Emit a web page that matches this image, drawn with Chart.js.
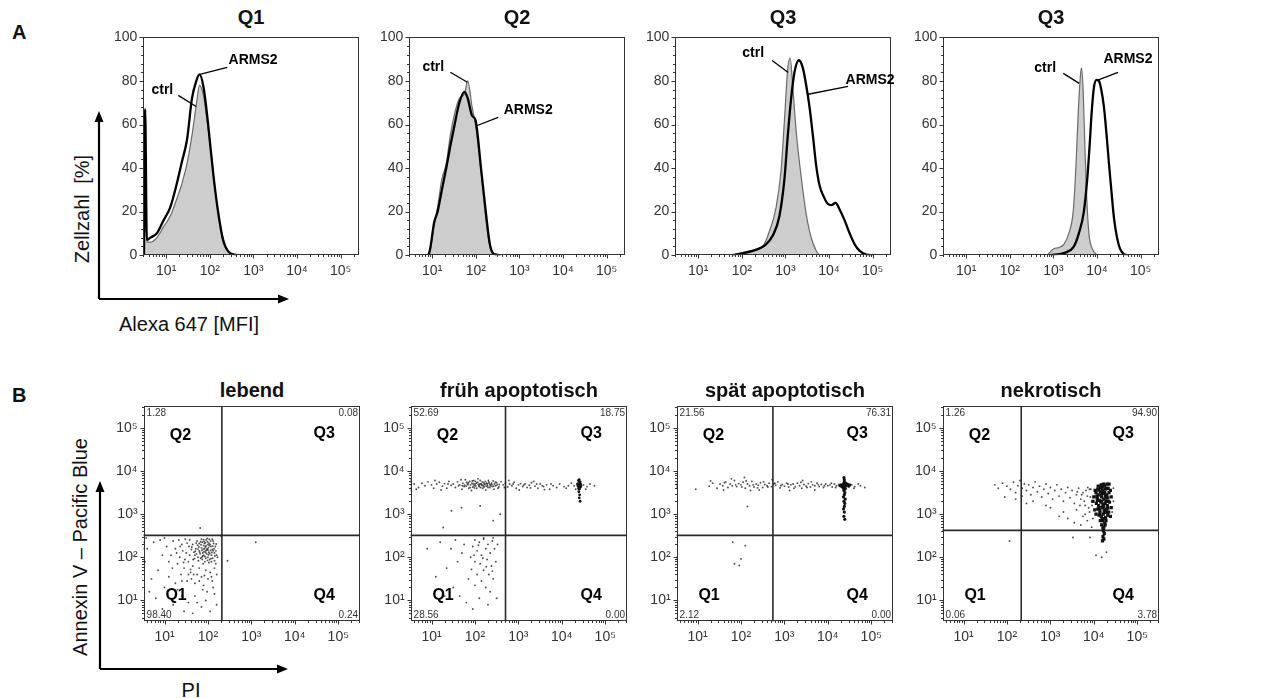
<!DOCTYPE html>
<html><head><meta charset="utf-8">
<script src="https://cdn.jsdelivr.net/npm/chart.js@4.4.1/dist/chart.umd.min.js"></script>
<style>
html,body{margin:0;padding:0;background:#fff;}
body{position:relative;width:1266px;height:698px;overflow:hidden;font-family:'Liberation Sans',Arial,'DejaVu Sans',sans-serif;color:#111;}
.lbl{position:absolute;white-space:nowrap;line-height:1;}
.ttl{position:absolute;width:300px;text-align:center;font-weight:bold;font-size:20px;line-height:20px;color:#111;}
.wrap{position:absolute;}
svg{position:absolute;left:0;top:0;}
</style></head><body>
<div class="lbl" style="left:12px;top:22px;font-weight:bold;font-size:20px;">A</div>
<div class="lbl" style="left:12px;top:385px;font-weight:bold;font-size:20px;">B</div>
<div class="lbl" style="left:82px;top:209px;font-size:20px;transform:translate(-50%,-50%) rotate(-90deg);word-spacing:5px;">Zellzahl [%]</div>
<div class="lbl" style="left:189px;top:324px;font-size:20px;transform:translate(-50%,-50%);">Alexa 647 [MFI]</div>
<div class="lbl" style="left:80px;top:547px;font-size:20px;transform:translate(-50%,-50%) rotate(-90deg);">Annexin V – Pacific Blue</div>
<div class="lbl" style="left:191px;top:690px;font-size:20px;transform:translate(-50%,-50%);">PI</div>
<svg width="1266" height="698">
  <g stroke="#000" stroke-width="2.2" fill="none">
    <path d="M99 299 V118 M99 299 H282"/>
    <path d="M100 669 V488 M100 669 H281"/>
  </g>
  <g fill="#000">
    <polygon points="99,111 94.5,122 103.5,122"/>
    <polygon points="289,299 278,294.5 278,303.5"/>
    <polygon points="100,481 95.5,492 104.5,492"/>
    <polygon points="288,669 277,664.5 277,673.5"/>
  </g>
</svg>
<script>
// ================= DATA =================
const decades = [10, 100, 1000, 10000, 100000];
const histYTicks = [0, 20, 40, 60, 80, 100];
const histTitles = ['Q1', 'Q2', 'Q3', 'Q3'];
const scatterTitles = ['lebend', 'früh apoptotisch', 'spät apoptotisch', 'nekrotisch'];
const seriesNames = ['ctrl', 'ARMS2'];

// Histogram Q1 (Alexa 647 MFI vs cell count %)
const q1X     = [3.1, 3.3, 3.6, 4.3, 6.1, 8.7, 12.4, 17.6, 23, 30, 39, 49, 58, 72, 86, 103, 127, 160, 201, 271, 422];
const q1Ctrl  = [0, 60, 6, 6, 8, 13, 18, 26, 33, 42, 55, 69, 78, 73, 62, 50, 33, 18, 8, 1.5, 0];
const q1Arms  = [0, 67, 7, 8, 10, 16, 22, 33, 43, 53, 72, 80, 83, 77, 65, 50, 33, 18, 7, 1.5, 0];
// Histogram Q2
const q2X     = [8.2, 9, 11.1, 13.3, 16.7, 21, 26, 32.7, 42, 54.7, 65.3, 82.2, 98.2, 133, 167, 210, 260, 371];
const q2Ctrl  = [0, 2, 14, 22, 35, 42, 55, 65, 72, 74, 80, 68, 60, 38, 18, 4, 0.3, 0];
const q2Arms  = [0, 3, 15, 20, 30, 40, 50, 60, 70, 75, 72, 64, 62, 39, 21, 5, 0.5, 0];
// Histogram Q3 (first)
const q3CtrlX = [61.5, 149, 301, 429, 610, 794, 948, 1132, 1280, 1475, 1758, 2291, 2985, 3890, 5070, 6050];
const q3CtrlY = [0, 2, 4, 11, 22, 39, 62, 86, 90.5, 77, 57, 36, 19, 8, 2, 0];
const q3ArmsX = [61.5, 177, 359, 512, 728, 948, 1132, 1349, 1610, 2026, 2502, 2985, 3562, 4250, 5070, 6050, 7480, 9400, 11220, 14100, 17420, 22700, 29580, 38550, 50230, 71450, 101900];
const q3ArmsY = [0, 2, 5, 9, 18, 35, 55, 72, 84, 89.5, 86, 78, 68, 55, 41, 32, 27, 23.5, 23, 24, 21, 16, 10, 5, 2, 0.3, 0];
// Histogram Q3 (second)
const q4CtrlX = [714, 1018, 1327, 1729, 2251, 2831, 3260, 3687, 4176, 4402, 4808, 5250, 5738, 6490, 7741, 10090];
const q4CtrlY = [0, 3, 3.5, 5, 10, 20, 40, 65, 83, 86, 75, 50, 28, 10, 3, 0];
const q4ArmsX = [853, 1729, 2931, 3819, 4977, 5943, 6724, 7478, 8458, 9747, 11020, 12470, 14360, 16530, 18710, 21170, 24380, 28070, 33490, 41380, 53950];
const q4ArmsY = [0, 1, 4, 10, 20, 35, 50, 65, 77, 80.5, 80, 76, 68, 55, 42, 30, 17, 9, 3, 0.5, 0];

// Scatter plots: each event = [log10 PI, log10 Annexin V]
const lebendDots = [
 [1.95,2.15],[1.98,2.2],[2.02,2.12],[1.9,2.05],[1.85,2.22],[2.05,2.3],[2.1,2.18],[1.92,2.32],[1.88,2.1],[2.0,2.0],
 [2.08,2.05],[1.8,2.15],[1.76,2.28],[2.12,2.38],[1.96,2.4],[2.04,1.95],[1.7,2.05],[1.83,1.98],[2.15,2.1],[1.93,1.9],
 [2.07,2.25],[1.87,2.35],[1.78,1.92],[2.0,2.3],[1.97,2.08],[1.9,2.27],[2.11,1.98],[1.72,2.2],[2.03,2.42],[1.85,2.42],
 [1.65,2.3],[1.68,2.12],[2.17,2.25],[1.95,1.98],[2.06,2.16],[1.82,2.08],[1.99,2.36],[1.75,2.38],[2.13,2.32],[1.89,1.85],
 [2.02,1.88],[1.62,2.18],[2.08,1.9],[1.94,2.24],[1.8,2.32],[2.18,2.15],[1.86,2.0],[2.01,2.22],[1.91,2.13],[1.77,2.0],
 [1.97,2.17],[2.03,2.27],[1.89,2.19],[2.09,2.11],[1.93,2.02],[2.14,2.2],[1.84,2.29],[2.01,2.06],[1.79,2.24],[2.06,2.38],
 [1.94,2.34],[2.16,2.03],[1.87,1.95],[2.0,2.17],[1.9,2.41],[2.11,2.26],[1.81,2.12],[1.99,1.93],[2.07,1.97],[1.73,2.33],
 [2.19,2.31],[1.96,2.27],[1.86,2.16],[2.04,2.09],[1.92,2.2],[2.1,2.42],[1.83,2.36],[1.71,2.14],[2.15,1.92],[1.98,2.44],
 [1.63,2.24],[1.69,1.97],[2.2,2.05],[1.77,2.19],[2.02,2.33],[1.88,2.03],[1.95,2.11],[2.12,2.15],[1.74,2.08],[1.91,2.37],
 [1.5,2.1],[1.4,2.3],[1.55,1.9],[1.35,2.0],[1.45,1.75],[1.6,1.65],[1.25,2.2],[1.3,1.85],[1.58,2.4],[1.2,2.38],
 [1.48,2.42],[1.62,1.5],[1.75,1.6],[1.85,1.55],[1.95,1.7],[2.05,1.65],[2.1,1.45],[1.9,1.35],[1.7,1.4],[2.0,1.5],
 [1.8,1.75],[1.65,1.8],[2.15,1.75],[1.15,2.05],[1.05,2.25],[1.38,1.6],[1.52,1.45],[1.88,1.25],[2.12,1.3],[1.98,1.2],
 [1.42,2.15],[1.33,2.4],[1.1,1.9],[1.56,2.25],[1.66,1.95],[1.58,2.05],[1.47,1.95],[1.36,2.25],[1.6,1.72],[1.52,2.33],
 [1.44,1.88],[1.28,2.1],[1.67,1.6],[1.8,1.45],[1.92,1.58],[2.08,1.55],[2.18,1.85],[1.55,1.6],[1.4,1.45],[1.18,1.75],
 [0.6,2.2],[0.75,2.35],[0.55,1.9],[0.85,1.7],[0.7,1.5],[0.95,2.05],[0.9,2.4],[0.65,1.2],[0.8,1.05],[1.0,1.3],
 [1.1,1.55],[1.25,1.4],[1.2,0.9],[1.4,1.1],[1.55,0.95],[1.7,1.1],[1.85,0.85],[1.95,1.0],[2.05,0.75],[2.2,0.9],
 [1.65,0.7],[1.45,0.75],[0.95,0.8],[2.15,1.15],[1.3,1.25],[2.22,2.0],[2.2,1.6],[0.58,2.45],[1.0,2.45],[1.75,0.95],
 [1.82,2.68],[2.45,1.92],[3.1,2.35],[2.3,2.5],[0.52,2.2],[0.52,1.9],[0.52,2.35]
];
const fruehDots = [
 [1.5,3.7],[1.55,3.62],[1.6,3.75],[1.65,3.68],[1.7,3.58],[1.72,3.72],[1.78,3.8],[1.8,3.65],[1.83,3.7],[1.86,3.6],
 [1.88,3.76],[1.9,3.68],[1.93,3.72],[1.95,3.63],[1.97,3.78],[2.0,3.7],[2.02,3.66],[2.04,3.6],[2.06,3.74],[2.08,3.69],
 [2.1,3.64],[2.12,3.78],[2.14,3.71],[2.16,3.67],[2.18,3.6],[2.2,3.73],[2.22,3.69],[2.24,3.76],[2.26,3.65],[2.28,3.7],
 [2.3,3.62],[2.32,3.74],[2.35,3.68],[2.38,3.72],[2.4,3.64],[2.42,3.77],[2.45,3.7],[2.48,3.66],[2.5,3.73],[2.53,3.6],
 [2.56,3.69],[2.6,3.75],[1.62,3.66],[1.75,3.64],[1.85,3.73],[1.98,3.66],[2.11,3.7],[2.19,3.66],[2.27,3.72],[2.36,3.66],
 [1.92,3.55],[2.07,3.82],[2.25,3.56],[1.68,3.8],[2.44,3.58],
 [1.76,3.67],[1.81,3.74],[1.89,3.62],[1.94,3.77],[1.99,3.61],[2.03,3.72],[2.09,3.66],[2.13,3.62],[2.17,3.75],[2.21,3.63],
 [2.23,3.7],[2.29,3.66],[2.31,3.78],[2.34,3.62],[2.39,3.69],[2.43,3.65],[2.47,3.74],[2.51,3.68],[2.55,3.63],[1.84,3.68],
 [1.96,3.7],[2.01,3.76],[2.15,3.69],[2.33,3.71],[1.71,3.66],
 [0.6,3.7],[0.7,3.62],[0.78,3.72],[0.85,3.66],[0.92,3.75],[1.0,3.68],[1.05,3.6],[1.12,3.7],[1.18,3.74],[1.25,3.65],
 [1.3,3.71],[1.35,3.6],[1.4,3.76],[1.45,3.67],[0.65,3.58],[1.08,3.78],[1.22,3.56],[1.38,3.7],
 [2.65,3.68],[2.7,3.72],[2.75,3.63],[2.8,3.7],[2.85,3.66],[2.9,3.74],[2.95,3.6],[3.0,3.68],[3.05,3.71],[3.1,3.64],
 [3.15,3.7],[3.2,3.62],[3.25,3.67],[3.3,3.73],[3.38,3.65],[3.45,3.6],[3.5,3.7],[3.58,3.64],[3.65,3.68],[3.72,3.58],
 [3.8,3.66],[3.88,3.62],[3.95,3.7],[4.05,3.64],[4.15,3.66],[4.22,3.72],[2.78,3.78],[3.02,3.56],[3.35,3.76],[3.6,3.57],
 [2.68,3.62],[2.88,3.7],[3.12,3.67],[3.28,3.61],[3.42,3.7],[3.55,3.66],[3.75,3.7],[4.1,3.6],[4.28,3.66],[4.32,3.58],
 [4.5,3.68],[4.58,3.64],[4.65,3.7],[4.75,3.66],[4.55,3.58],
 [1.46,3.08],[1.69,3.15],[2.12,3.19],[1.27,2.69],[2.42,2.85],[2.58,3.0],
 [0.52,3.6],[0.52,3.68],[0.52,3.74],[0.52,3.55],[0.52,3.8],
 [2.0,2.4],[2.1,2.35],[2.2,2.42],[2.3,2.3],[2.4,2.38],[2.45,2.2],[2.35,2.1],[2.25,2.2],[2.15,2.05],[2.05,2.15],
 [1.95,2.25],[1.9,2.0],[2.0,1.9],[2.12,1.85],[2.28,1.95],[2.38,1.8],[2.48,1.9],[2.2,1.7],[2.05,1.6],[1.92,1.72],
 [2.32,1.6],[2.42,1.5],[2.15,1.45],[2.25,1.3],[2.0,1.35],[2.35,1.2],[1.85,1.5],[1.75,2.3],[1.7,2.1],[1.6,1.9],
 [1.55,2.4],[1.45,2.2],[1.35,1.75],[1.2,2.35],[1.1,1.55],[1.5,1.3],[1.65,1.1],[1.8,0.95],[2.1,1.05],[2.3,0.9],
 [2.5,1.05],[1.95,0.8],[2.2,2.45],[2.42,2.45],[2.52,2.3],[2.08,2.28],[2.18,1.98],[1.98,2.05],[2.26,1.78],[2.4,1.68],
 [0.9,2.2],[1.3,1.1]
];
const fruehCluster = [
 [4.38,3.7],[4.4,3.65],[4.42,3.68],[4.39,3.6],[4.41,3.72],[4.43,3.63],[4.37,3.66],[4.4,3.58],[4.42,3.75],[4.39,3.52],
 [4.41,3.45],[4.4,3.38],[4.42,3.3],[4.38,3.78],[4.36,3.7],[4.44,3.66],[4.4,3.69],[4.41,3.62],[4.39,3.67],[4.43,3.7],
 [4.38,3.64],[4.4,3.8]
];
const spaetDots = [
 [1.27,3.65],[1.35,3.72],[1.45,3.6],[1.52,3.7],[1.58,3.66],[1.65,3.75],[1.7,3.62],[1.75,3.7],[1.8,3.66],[1.85,3.78],
 [1.9,3.64],[1.95,3.71],[2.0,3.68],[2.05,3.74],[2.1,3.6],[2.15,3.7],[2.2,3.66],[2.25,3.76],[2.3,3.63],[2.35,3.7],
 [2.4,3.67],[2.45,3.73],[2.5,3.62],[2.55,3.69],[2.6,3.66],[2.65,3.72],[2.7,3.64],[2.75,3.7],[2.8,3.67],[2.85,3.75],
 [2.9,3.61],[2.95,3.69],[3.0,3.65],[3.05,3.72],[3.1,3.63],[3.15,3.68],[3.2,3.7],[3.25,3.64],[3.3,3.72],[3.35,3.66],
 [3.4,3.6],[3.45,3.69],[3.5,3.65],[3.55,3.71],[3.6,3.63],[3.65,3.68],[3.7,3.66],[3.75,3.72],[3.8,3.64],[3.85,3.69],
 [3.9,3.62],[3.95,3.7],[4.0,3.66],[4.05,3.68],[4.1,3.63],[4.15,3.7],[4.2,3.66],[1.78,3.82],[2.08,3.85],[2.42,3.56],
 [2.72,3.8],[3.12,3.55],[3.42,3.78],[1.6,3.56],[2.22,3.55],[3.7,3.56],[4.55,3.68],[4.62,3.64],[4.7,3.7],[4.85,3.62],
 [1.62,3.73],[1.88,3.68],[2.02,3.63],[2.12,3.77],[2.28,3.68],[2.38,3.61],[2.52,3.75],[2.62,3.63],[2.78,3.72],[2.92,3.66],
 [3.08,3.7],[3.22,3.6],[3.38,3.74],[3.52,3.62],[3.62,3.75],[3.78,3.68],[3.92,3.66],[4.08,3.72],[4.18,3.62],[4.25,3.69],
 [4.6,3.6],[4.75,3.66],
 [0.96,3.58],[1.3,3.77],[2.15,3.18],
 [1.81,2.35],[1.85,1.85],[1.96,1.81],[2.1,2.27],[2.0,1.96],
 [0.52,3.6],[0.52,3.68],[0.52,3.72],[0.52,3.64],[0.52,2.0],[0.52,1.95]
];
const spaetCluster = [
 [4.35,3.68],[4.37,3.72],[4.38,3.65],[4.36,3.6],[4.39,3.7],[4.4,3.66],[4.38,3.75],[4.37,3.55],[4.39,3.5],[4.38,3.45],
 [4.36,3.4],[4.4,3.35],[4.37,3.3],[4.39,3.25],[4.38,3.18],[4.36,3.12],[4.38,3.05],[4.37,2.95],[4.39,2.88],[4.28,3.66],
 [4.3,3.68],[4.32,3.64],[4.42,3.67],[4.45,3.7],[4.48,3.65],[4.5,3.68],[4.38,3.8],[4.37,3.85],[4.36,3.63],[4.4,3.6],
 [4.38,3.62],[4.39,3.58],[4.37,3.69],[4.41,3.72],[4.36,3.66]
];
const nekroDots = [
 [1.72,3.68],[1.8,3.6],[1.9,3.72],[2.0,3.65],[2.08,3.58],[2.15,3.74],[2.2,3.5],[2.25,3.66],[2.3,3.78],[2.35,3.6],
 [2.4,3.7],[2.45,3.55],[2.5,3.68],[2.55,3.45],[2.6,3.62],[2.65,3.75],[2.7,3.52],[2.75,3.65],[2.8,3.4],[2.85,3.58],
 [2.9,3.7],[2.95,3.48],[3.0,3.62],[3.05,3.35],[3.1,3.55],[3.15,3.68],[3.2,3.42],[3.25,3.58],[3.3,3.3],[3.35,3.5],
 [3.4,3.62],[3.45,3.38],[3.5,3.55],[3.55,3.25],[3.6,3.45],[3.65,3.6],[3.7,3.35],[3.75,3.5],[3.8,3.2],[3.85,3.42],
 [3.9,3.58],[3.95,3.3],[2.45,3.25],[2.9,3.2],[3.3,3.05],[3.6,3.1],[3.75,2.95],[3.9,3.05],[3.85,2.85],[3.7,2.75],
 [3.95,2.7],[2.2,3.35],[2.6,3.3],[3.0,3.15],[1.95,3.4],[3.4,2.9],[3.55,2.8],[3.2,2.95],[2.35,3.42],
 [3.72,3.45],[3.78,3.3],[3.82,3.55],[3.88,3.15],[3.92,3.4],[3.96,3.2],[3.8,3.0],[3.68,3.2],[3.86,3.62],[3.62,3.52],
 [3.98,2.9],[3.93,3.58],[4.45,3.3],[4.45,3.6],[4.42,3.05],
 [2.06,2.38],[3.52,2.46],[3.91,2.46],[4.18,2.0],[4.29,2.12],[4.05,2.05]
];
const nekroBlob = [
 [4.05,3.5],[4.1,3.45],[4.15,3.52],[4.2,3.48],[4.25,3.5],[4.3,3.45],[4.35,3.5],[4.08,3.38],[4.13,3.32],[4.18,3.4],
 [4.23,3.35],[4.28,3.38],[4.33,3.3],[4.06,3.25],[4.11,3.2],[4.16,3.28],[4.21,3.22],[4.26,3.25],[4.31,3.2],[4.36,3.28],
 [4.09,3.12],[4.14,3.08],[4.19,3.15],[4.24,3.1],[4.29,3.12],[4.34,3.05],[4.12,2.98],[4.17,2.95],[4.22,3.0],[4.27,2.92],
 [4.32,2.98],[4.2,2.85],[4.25,2.8],[4.18,2.75],[4.23,2.7],[4.22,2.62],[4.24,2.55],[4.21,2.48],[4.23,2.42],[4.2,2.38],
 [4.03,3.55],[4.38,3.55],[4.4,3.4],[4.0,3.4],[3.98,3.3],[4.02,3.1],[4.4,3.15],[4.15,3.62],[4.3,3.6],[4.22,3.7],
 [4.1,3.65],[4.35,3.7],[4.05,3.0],[4.38,2.95],[4.28,2.85],[4.15,2.85],[4.2,3.55],[4.27,3.58],[4.12,3.56],
 [4.07,3.42],[4.17,3.45],[4.27,3.43],[4.32,3.38],[4.12,3.15],[4.22,3.18],[4.32,3.14],[4.08,3.32],[4.18,3.3],[4.28,3.3],
 [4.14,3.02],[4.24,3.04],[4.3,3.05],[4.09,3.58],[4.19,3.62],[4.25,3.65],[4.33,3.6],[4.17,3.68],[4.3,3.7],[4.24,2.9],
 [4.19,2.9],[4.26,2.75],[4.21,2.68]
];
// Quadrant gates (PI, Annexin V) and quadrant percentages
const gatePI      = [209, 505, 544, 213];
const gateAnnexin = [323, 323, 323, 421];
const quadNames = ['Q1', 'Q2', 'Q3', 'Q4'];
const pctQ1 = ['98.40', '28.56', '2.12', '0.06'];
const pctQ2 = ['1.28', '52.69', '21.56', '1.26'];
const pctQ3 = ['0.08', '18.75', '76.31', '94.90'];
const pctQ4 = ['0.24', '0.00', '0.00', '3.78'];

// ================= LAYOUT =================
const FONT = "'Liberation Sans', Arial, 'DejaVu Sans', sans-serif";
Chart.defaults.font.family = FONT;
Chart.defaults.color = '#333';
const histLeft = [143, 409, 675, 943], histTop = 37, HW = 216, HH = 218;
const scatLeft = [144, 411, 677, 943], scatTop = 406, SW = 216, SH = 215;
const AX_MIN = 3, AX_MAX = 262144, S_MIN = 3.3, S_MAX = 316000;

const histNotes = [
 [{t:'ARMS2',tx:0.509,ty:0.105,x1:0.389,y1:0.138,x2:0.262,y2:0.170},{t:'ctrl',tx:0.088,ty:0.243,x1:0.162,y1:0.266,x2:0.245,y2:0.317}],
 [{t:'ctrl',tx:0.111,ty:0.138,x1:0.19,y1:0.16,x2:0.269,y2:0.206},{t:'ARMS2',tx:0.551,ty:0.335,x1:0.412,y1:0.367,x2:0.306,y2:0.408}],
 [{t:'ctrl',tx:0.361,ty:0.073,x1:0.449,y1:0.106,x2:0.523,y2:0.161},{t:'ARMS2',tx:0.903,ty:0.197,x1:0.801,y1:0.225,x2:0.616,y2:0.261}],
 [{t:'ctrl',tx:0.472,ty:0.142,x1:0.556,y1:0.165,x2:0.63,y2:0.211},{t:'ARMS2',tx:0.856,ty:0.101,x1:0.81,y1:0.161,x2:0.713,y2:0.197}]
];
const quadLabelPos = [[0.15,0.883],[0.17,0.135],[0.835,0.128],[0.835,0.88]];

const SUP = {1:'\u00B9',2:'\u00B2',3:'\u00B3',4:'\u2074',5:'\u2075'};
const decadeLabel = v => '10' + SUP[Math.round(Math.log10(v))];

function logTicks(min, max) {
  const out = [];
  for (let e = 0; e <= 6; e++) for (let m = 1; m <= 9; m++) {
    const v = m * Math.pow(10, e);
    if (v >= min && v <= max) out.push({v, major: m === 1});
  }
  return out;
}
function seg(ctx, x1, y1, x2, y2) { ctx.beginPath(); ctx.moveTo(x1, y1); ctx.lineTo(x2, y2); ctx.stroke(); }

const histDeco = {
  id: 'histDeco',
  afterDatasetsDraw(chart, args, o) {
    const {ctx, chartArea: a, scales: {x, y}} = chart;
    ctx.save();
    const L = Math.round(a.left) + 0.5, R = Math.round(a.right) - 0.5, T = Math.round(a.top) + 0.5, B = Math.round(a.bottom) - 0.5;
    ctx.strokeStyle = '#333'; ctx.lineWidth = 1;
    ctx.strokeRect(L, T, R - L, B - T);
    for (let v = 0; v <= 100; v += 4) { const py = Math.round(y.getPixelForValue(v)) + 0.5; seg(ctx, L - (v % 20 === 0 ? 4 : 2.5), py, L, py); }
    for (const t of logTicks(x.min, x.max)) { const px = Math.round(x.getPixelForValue(t.v)) + 0.5; seg(ctx, px, B, px, B + (t.major ? 4 : 2.5)); }
    const W = a.right - a.left, H = a.bottom - a.top;
    ctx.fillStyle = '#000'; ctx.strokeStyle = '#000'; ctx.lineWidth = 1.3;
    ctx.font = 'bold 14px ' + FONT; ctx.textAlign = 'center'; ctx.textBaseline = 'middle';
    for (const n of o.notes) {
      ctx.fillText(n.t, a.left + n.tx * W, a.top + n.ty * H);
      seg(ctx, a.left + n.x1 * W, a.top + n.y1 * H, a.left + n.x2 * W, a.top + n.y2 * H);
    }
    ctx.restore();
  }
};

const scatDeco = {
  id: 'scatDeco',
  beforeDatasetsDraw(chart, args, o) {
    const {ctx, chartArea: a, scales: {x, y}} = chart;
    ctx.save();
    const L = Math.round(a.left) + 0.5, R = Math.round(a.right) - 0.5, T = Math.round(a.top) + 0.5, B = Math.round(a.bottom) - 0.5;
    ctx.strokeStyle = '#333'; ctx.lineWidth = 1;
    ctx.strokeRect(L, T, R - L, B - T);
    for (const t of logTicks(x.min, x.max)) { const px = Math.round(x.getPixelForValue(t.v)) + 0.5; seg(ctx, px, B, px, B + (t.major ? 4 : 2.5)); }
    for (const t of logTicks(y.min, y.max)) { const py = Math.round(y.getPixelForValue(t.v)) + 0.5; seg(ctx, L - (t.major ? 4 : 2.5), py, L, py); }
    ctx.strokeStyle = '#2a2a2a'; ctx.lineWidth = 1.6;
    const gx = x.getPixelForValue(o.gx), gy = y.getPixelForValue(o.gy);
    seg(ctx, gx, a.top, gx, a.bottom);
    seg(ctx, a.left, gy, a.right, gy);
    ctx.restore();
  },
  afterDatasetsDraw(chart, args, o) {
    const {ctx, chartArea: a} = chart;
    ctx.save();
    const W = a.right - a.left, H = a.bottom - a.top;
    ctx.fillStyle = '#000'; ctx.font = 'bold 16px ' + FONT; ctx.textAlign = 'center'; ctx.textBaseline = 'middle';
    quadNames.forEach((q, i) => ctx.fillText(q, a.left + quadLabelPos[i][0] * W, a.top + quadLabelPos[i][1] * H));
    ctx.font = '10px ' + FONT; ctx.fillStyle = '#333';
    ctx.textAlign = 'left'; ctx.textBaseline = 'top';
    ctx.fillText(o.pct[1], a.left + 3, a.top + 2);
    ctx.textAlign = 'right';
    ctx.fillText(o.pct[2], a.right - 2, a.top + 2);
    ctx.textBaseline = 'bottom';
    ctx.fillText(o.pct[3], a.right - 2, a.bottom - 1);
    ctx.textAlign = 'left';
    ctx.fillText(o.pct[0], a.left + 3, a.bottom - 1);
    ctx.restore();
  }
};

function logAxis(min, max) {
  return {
    type: 'logarithmic', min, max,
    grid: {display: false, drawTicks: false}, border: {display: false},
    afterBuildTicks: s => { s.ticks = decades.map(v => ({value: v})); },
    ticks: {callback: v => decadeLabel(v), autoSkip: false, maxRotation: 0, color: '#333', font: {size: 14}, padding: 8}
  };
}

function place(L, T, W, H, config) {
  const wrap = document.createElement('div');
  wrap.className = 'wrap';
  const cv = document.createElement('canvas');
  const W0 = W + 80, H0 = H + 60;
  cv.width = W0; cv.height = H0;
  wrap.style.width = W0 + 'px'; wrap.style.height = H0 + 'px';
  wrap.appendChild(cv); document.body.appendChild(wrap);
  config.options.responsive = false;
  config.options.maintainAspectRatio = false;
  config.options.animation = false;
  config.options.events = [];
  const chart = new Chart(cv, config);
  for (let k = 0; k < 3; k++) {
    const a = chart.chartArea;
    const nw = Math.round(chart.width + (W - (a.right - a.left)));
    const nh = Math.round(chart.height + (H - (a.bottom - a.top)));
    if (nw === chart.width && nh === chart.height) break;
    wrap.style.width = nw + 'px'; wrap.style.height = nh + 'px';
    chart.resize(nw, nh);
  }
  const a = chart.chartArea;
  wrap.style.left = (L - a.left) + 'px';
  wrap.style.top = (T - a.top) + 'px';
  return chart;
}

function addTitle(text, cx, cy) {
  const d = document.createElement('div');
  d.className = 'ttl'; d.textContent = text;
  d.style.left = (cx - 150) + 'px'; d.style.top = (cy - 10) + 'px';
  document.body.appendChild(d);
}

const pts = (xs, ys) => xs.map((x, i) => ({x, y: ys[i]}));
const logPts = arr => arr.map(p => ({x: Math.pow(10, p[0]), y: Math.pow(10, p[1])}));

const histData = [
  {ctrl: pts(q1X, q1Ctrl), arms: pts(q1X, q1Arms)},
  {ctrl: pts(q2X, q2Ctrl), arms: pts(q2X, q2Arms)},
  {ctrl: pts(q3CtrlX, q3CtrlY), arms: pts(q3ArmsX, q3ArmsY)},
  {ctrl: pts(q4CtrlX, q4CtrlY), arms: pts(q4ArmsX, q4ArmsY)}
];

histData.forEach((h, i) => {
  addTitle(histTitles[i], histLeft[i] + HW / 2, 17);
  place(histLeft[i], histTop, HW, HH, {
    type: 'line',
    data: {datasets: [
      {label: seriesNames[1], data: h.arms, borderColor: '#000', borderWidth: 2.3, pointRadius: 0, fill: false, cubicInterpolationMode: 'monotone'},
      {label: seriesNames[0], data: h.ctrl, borderColor: '#6a6a6a', borderWidth: 1.2, backgroundColor: '#cdcdcd', fill: 'origin', pointRadius: 0, cubicInterpolationMode: 'monotone'}
    ]},
    options: {
      layout: {padding: {top: 12, right: 12, left: 4, bottom: 4}},
      plugins: {legend: {display: false}, tooltip: {enabled: false}, histDeco: {notes: histNotes[i]}},
      scales: {
        x: logAxis(AX_MIN, AX_MAX),
        y: {type: 'linear', min: 0, max: 100, grid: {display: false, drawTicks: false}, border: {display: false},
            afterBuildTicks: s => { s.ticks = histYTicks.map(v => ({value: v})); },
            ticks: {color: '#333', font: {size: 14}, padding: 6}}
      }
    },
    plugins: [histDeco]
  });
});

const scatSets = [
  {dots: lebendDots, dense: [], r: 1.5, style: 'circle'},
  {dots: fruehDots, dense: fruehCluster, r: 1.4, style: 'circle'},
  {dots: spaetDots, dense: spaetCluster, r: 1.6, style: 'circle'},
  {dots: nekroDots, dense: nekroBlob, r: 2.3, style: 'rect'}
];
scatSets.forEach((s, i) => {
  addTitle(scatterTitles[i], scatLeft[i] + SW / 2, 390);
  place(scatLeft[i], scatTop, SW, SH, {
    type: 'scatter',
    data: {datasets: [
      {data: logPts(s.dots), pointRadius: 0.95, borderWidth: 0, backgroundColor: 'rgba(30,30,30,0.78)'},
      {data: logPts(s.dense), pointRadius: s.r, pointStyle: s.style, borderWidth: 0, backgroundColor: '#111'}
    ]},
    options: {
      layout: {padding: {top: 12, right: 12, left: 4, bottom: 4}},
      plugins: {legend: {display: false}, tooltip: {enabled: false},
        scatDeco: {gx: gatePI[i], gy: gateAnnexin[i], pct: [pctQ1[i], pctQ2[i], pctQ3[i], pctQ4[i]]}},
      scales: {x: logAxis(S_MIN, S_MAX), y: Object.assign(logAxis(S_MIN, S_MAX), {ticks: {callback: v => decadeLabel(v), autoSkip: false, color: '#333', font: {size: 14}, padding: 6}})}
    },
    plugins: [scatDeco]
  });
});
</script>
</body></html>
